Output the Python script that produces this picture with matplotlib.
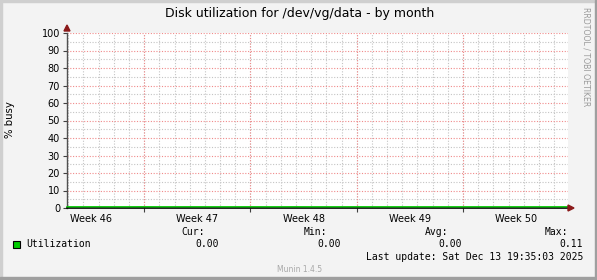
import numpy as np
import pandas as pd
import matplotlib
matplotlib.use('Agg')
import matplotlib.pyplot as plt
import matplotlib.dates as mdates
import matplotlib.transforms as mtransforms
from matplotlib.patches import Rectangle, Polygon

# data (utilization is ~0 the whole month)
t_start = pd.Timestamp('2025-11-11 22:00')
t_end = pd.Timestamp('2025-12-14 22:00')
times = pd.date_range(t_start, t_end, freq='1D')
util = [0.0, 0.0, 0.01, 0.0, 0.0, 0.02, 0.0, 0.0, 0.01, 0.0, 0.0, 0.0,
        0.01, 0.0, 0.0, 0.02, 0.0, 0.0, 0.0, 0.01, 0.0, 0.0, 0.0, 0.0]
util = util + [0.0] * (len(times) - len(util))

week_labels = ['Week 46', 'Week 47', 'Week 48', 'Week 49', 'Week 50']
week_centers = pd.to_datetime(['2025-11-13 12:00', '2025-11-20 12:00', '2025-11-27 12:00',
                               '2025-12-04 12:00', '2025-12-11 12:00'])
week_starts = pd.to_datetime(['2025-11-17', '2025-11-24', '2025-12-01', '2025-12-08'])
yticks = [0, 10, 20, 30, 40, 50, 60, 70, 80, 90, 100]

legend_stats = {'Cur:': '0.00', 'Min:': '0.00', 'Avg:': '0.00', 'Max:': '0.11'}

W, H = 597, 280
fig = plt.figure(figsize=(W / 100, H / 100), dpi=100)
fig.patch.set_facecolor('#f3f3f3')

def px(x, y):
    return x / W, 1 - y / H

# frame like rrdtool
fig.patches.append(Rectangle((0, 0), 2 / W, 1, transform=fig.transFigure, color='#cfcfcf', zorder=0))
fig.patches.append(Rectangle((0, 1 - 2 / H), 1, 2 / H, transform=fig.transFigure, color='#cfcfcf', zorder=0))
fig.patches.append(Rectangle((1 - 2 / W, 0), 2 / W, 1, transform=fig.transFigure, color='#9f9f9f', zorder=0))
fig.patches.append(Rectangle((0, 0), 1, 3 / H, transform=fig.transFigure, color='#9f9f9f', zorder=0))

l, b = px(67, 208)
r, t = px(568, 33)
ax = fig.add_axes([l, b, r - l, t - b])
ax.set_facecolor('white')
ax.set_xlim(t_start, t_end)
ax.set_ylim(0, 100)

# grid
dots = (0, (1, 1.5))
for d in pd.date_range('2025-11-12', '2025-12-14', freq='1D'):
    ax.axvline(d, color='#c4c4c4', lw=0.8, ls=dots, zorder=1)
for y in range(5, 100, 10):
    ax.axhline(y, color='#c4c4c4', lw=0.8, ls=dots, zorder=1)
for d in week_starts:
    ax.axvline(d, color='#f08a8a', lw=0.8, ls=dots, zorder=2)
for y in yticks[1:]:
    ax.axhline(y, color='#f08a8a', lw=0.8, ls=dots, zorder=2)

for s in ['top', 'right']:
    ax.spines[s].set_visible(False)
ax.spines['left'].set_color('#505050')
ax.spines['bottom'].set_color('black')
ax.spines['left'].set_linewidth(1)
ax.spines['bottom'].set_linewidth(1.2)
ax.spines['left'].set_zorder(5)
ax.spines['bottom'].set_zorder(5)

up = mtransforms.offset_copy(ax.transData, fig=fig, y=1.2, units='dots')
ax.plot(times, util, color='#00cc00', lw=1, zorder=6, clip_on=False, transform=up)

ax.set_yticks(yticks)
ax.set_yticklabels([str(v) for v in yticks], fontsize=7)
ax.tick_params(axis='y', length=3, width=0.8, color='#404040', pad=2)
ax.set_xticks(week_starts)
ax.set_xticklabels([])
ax.tick_params(axis='x', length=3, width=0.8, color='#404040')
for c, lab in zip(week_centers, week_labels):
    ax.text(c, -3.5, lab, ha='center', va='top', fontsize=7)

# axis arrows
fig.patches.append(Polygon([px(64, 31), px(70, 31), px(67, 25)], closed=True,
                           transform=fig.transFigure, color='#8b1a1a', zorder=10))
fig.patches.append(Polygon([px(568, 205), px(568, 211), px(574, 208)], closed=True,
                           transform=fig.transFigure, color='#8b1a1a', zorder=10))

fig.text(*px(300, 14), 'Disk utilization for /dev/vg/data - by month', ha='center', va='center',
         fontsize=9)
fig.text(*px(10, 120), '% busy', ha='center', va='center', rotation=90, fontsize=7.3)
fig.text(*px(586, 57), 'RRDTOOL / TOBI OETIKER', ha='center', va='center', rotation=270,
         fontsize=5.6, color='#9a9a9a')

# legend
mono = 'DejaVu Sans Mono'
fig.patches.append(Rectangle(px(13, 248), 7 / W, 7 / H, transform=fig.transFigure,
                             facecolor='#00cc00', edgecolor='black', lw=0.8, zorder=10))
fig.text(*px(26, 244), 'Utilization', ha='left', va='center', fontsize=7, family=mono)
head_x = [205, 327, 448, 568]
val_x = [219, 341, 462, 583]
for (k, v), hx, vx in zip(legend_stats.items(), head_x, val_x):
    fig.text(*px(hx, 232), k, ha='right', va='center', fontsize=7, family=mono)
    fig.text(*px(vx, 244), v, ha='right', va='center', fontsize=7, family=mono)
fig.text(*px(583, 257), 'Last update: Sat Dec 13 19:35:03 2025', ha='right', va='center',
         fontsize=7, family=mono)
fig.text(*px(300, 269), 'Munin 1.4.5', ha='center', va='center', fontsize=5.5, color='#a8a8a8')

fig.savefig('out.png', dpi=100, facecolor=fig.get_facecolor())
